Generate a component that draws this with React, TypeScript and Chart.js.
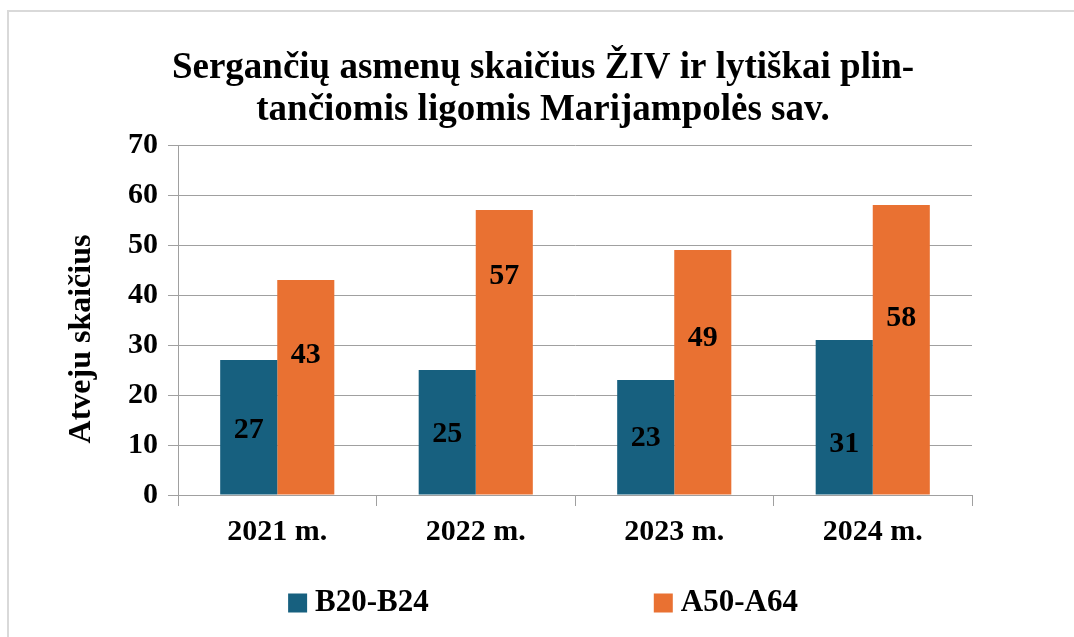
import React, { useEffect, useRef } from 'react';
import { Chart, registerables } from 'chart.js';

Chart.register(...registerables);

// ---- data ----
const TITLE_LINES = ['Sergančių asmenų skaičius ŽIV ir lytiškai plin-', 'tančiomis ligomis Marijampolės sav.'];
const CATEGORIES = ['2021 m.', '2022 m.', '2023 m.', '2024 m.'];
const SERIES_NAMES = ['B20-B24', 'A50-A64'];
const B20_B24 = [27, 25, 23, 31];
const A50_A64 = [43, 57, 49, 58];
// value level (in axis units) where each data label sits
const B20_B24_LABEL_AT = [13, 12.2, 11.4, 10.2];
const A50_A64_LABEL_AT = [28, 43.8, 31.4, 35.4];
const Y_MIN = 0;
const Y_MAX = 70;
const Y_STEP = 10;
const Y_TITLE = 'Atveju skaičius';

// ---- styles ----
const FONT = "'Liberation Serif', 'Times New Roman', serif";
const BLUE = '#17607F';
const ORANGE = '#E97132';
const GRID = '#a0a0a0';
const PAD_L = 114;
const PAD_R = 102;
const PAD_B = 80;
const TITLE_SIZE = 37;
const TITLE_LH = 1.14;
const TITLE_TOP = 47;
const PLOT_TOP = 145;

const decorPlugin = {
  id: 'decor',
  beforeDraw(chart: any) {
    const ctx = chart.ctx;
    ctx.save();
    ctx.fillStyle = '#ffffff';
    ctx.fillRect(0, 0, chart.width, chart.height);
    ctx.strokeStyle = '#d9d9d9';
    ctx.lineWidth = 2;
    ctx.beginPath();
    ctx.moveTo(8, 10);
    ctx.lineTo(8, chart.height);
    ctx.moveTo(7, 11);
    ctx.lineTo(chart.width, 11);
    ctx.stroke();
    ctx.restore();
  },
  afterDatasetsDraw(chart: any) {
    const ctx = chart.ctx;
    const yScale = chart.scales.y;
    const anchors = [B20_B24_LABEL_AT, A50_A64_LABEL_AT];
    ctx.save();
    ctx.font = `bold 30px ${FONT}`;
    ctx.fillStyle = '#000';
    ctx.textAlign = 'center';
    ctx.textBaseline = 'middle';
    chart.data.datasets.forEach((ds: any, i: number) => {
      const meta = chart.getDatasetMeta(i);
      meta.data.forEach((el: any, j: number) => {
        const y = yScale.getPixelForValue(anchors[i][j]);
        ctx.fillText(String(ds.data[j]), el.x, y);
      });
    });
    ctx.restore();
  },
  afterDraw(chart: any) {
    const ctx = chart.ctx;
    const area = chart.chartArea;
    ctx.save();
    // y axis title
    ctx.font = `bold 32px ${FONT}`;
    ctx.fillStyle = '#000';
    ctx.textAlign = 'center';
    ctx.textBaseline = 'middle';
    ctx.translate(82, (area.top + area.bottom) / 2 + 19);
    ctx.rotate(-Math.PI / 2);
    ctx.fillText(Y_TITLE, 0, 0);
    ctx.restore();

    // legend
    ctx.save();
    ctx.font = `bold 31px ${FONT}`;
    ctx.textBaseline = 'middle';
    ctx.textAlign = 'left';
    const box = 19;
    const gapText = 8;
    const gapItems = 225;
    const items = chart.data.datasets.map((ds: any) => ({
      text: ds.label,
      color: ds.backgroundColor,
      w: box + gapText + ctx.measureText(ds.label).width,
    }));
    const total = items.reduce((s: number, it: any) => s + it.w, 0) + gapItems * (items.length - 1);
    const center = (PAD_L + chart.width - PAD_R) / 2;
    let x = center - total / 2;
    const cy = 603;
    items.forEach((it: any) => {
      ctx.fillStyle = it.color;
      ctx.fillRect(x, cy - box / 2, box, box);
      ctx.fillStyle = '#000';
      ctx.fillText(it.text, x + box + gapText, cy);
      x += it.w + gapItems;
    });
    ctx.restore();
  },
};

export default function App() {
  const ref = useRef<HTMLCanvasElement>(null);

  useEffect(() => {
    const titleBottom = PLOT_TOP - TITLE_TOP - TITLE_LINES.length * TITLE_SIZE * TITLE_LH;
    const chart = new Chart(ref.current as HTMLCanvasElement, {
      type: 'bar',
      data: {
        labels: CATEGORIES,
        datasets: [
          {
            label: SERIES_NAMES[0],
            data: B20_B24,
            backgroundColor: BLUE,
            borderWidth: 0,
            categoryPercentage: 0.575,
            barPercentage: 1,
          },
          {
            label: SERIES_NAMES[1],
            data: A50_A64,
            backgroundColor: ORANGE,
            borderWidth: 0,
            categoryPercentage: 0.575,
            barPercentage: 1,
          },
        ],
      },
      options: {
        responsive: false,
        animation: false,
        devicePixelRatio: 1,
        layout: { padding: { left: PAD_L, right: PAD_R, top: 0, bottom: PAD_B } },
        plugins: {
          legend: { display: false },
          tooltip: { enabled: false },
          title: {
            display: true,
            text: TITLE_LINES,
            color: '#000',
            font: { family: FONT, size: TITLE_SIZE, weight: 'bold', lineHeight: TITLE_LH },
            padding: { top: TITLE_TOP, bottom: titleBottom },
          },
        },
        scales: {
          x: {
            grid: {
              offset: true,
              drawOnChartArea: false,
              drawTicks: true,
              tickLength: 11,
              color: GRID,
              lineWidth: 1,
            },
            border: { color: GRID, width: 1 },
            ticks: {
              color: '#000',
              padding: 8,
              font: { family: FONT, size: 30, weight: 'bold' },
            },
            afterFit: (s: any) => {
              s.height = 62;
            },
          },
          y: {
            min: Y_MIN,
            max: Y_MAX,
            grid: { color: GRID, lineWidth: 1, tickLength: 10 },
            border: { color: GRID, width: 1 },
            ticks: {
              stepSize: Y_STEP,
              color: '#000',
              padding: 10,
              font: { family: FONT, size: 30, weight: 'bold' },
            },
            afterFit: (s: any) => {
              s.width = 178 - PAD_L;
            },
          },
        },
      },
      plugins: [decorPlugin],
    } as any);
    return () => chart.destroy();
  }, []);

  return (
    <div style={{ position: 'absolute', left: 0, top: 0, width: 1074, height: 637, overflow: 'hidden', background: '#fff' }}>
      <canvas ref={ref} width={1074} height={637} style={{ display: 'block', width: 1074, height: 637 }} />
    </div>
  );
}
